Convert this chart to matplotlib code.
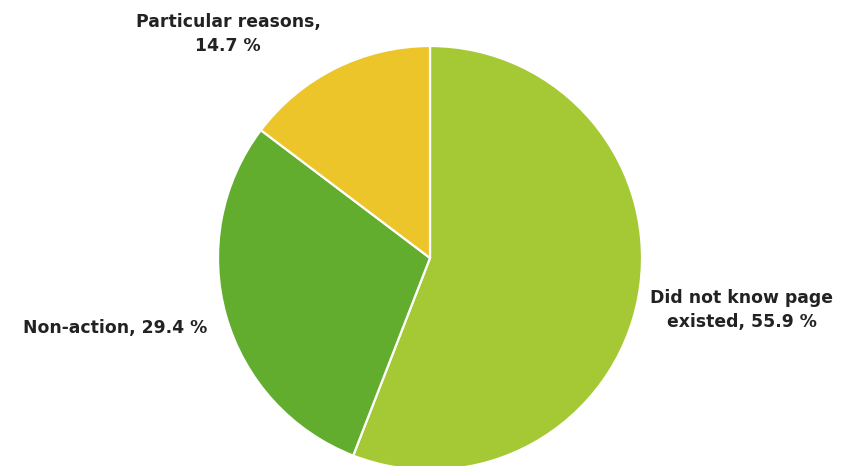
import matplotlib
matplotlib.use("Agg")
import matplotlib.pyplot as plt

categories = ["Did not know page\nexisted, 55.9 %", "Non-action, 29.4 %", "Particular reasons,\n14.7 %"]
values = [55.9, 29.4, 14.7]
colors = ["#a4c934", "#63ad2e", "#ecc52a"]

W, H = 848, 466
fig = plt.figure(figsize=(W / 100, H / 100), dpi=100)
ax = fig.add_axes([0, 0, 1, 1])

cx, cy, r = 430, H - 258, 212
wedges, texts = ax.pie(values, labels=categories, colors=colors, startangle=90,
                       counterclock=False, center=(cx, cy), radius=r,
                       labeldistance=1.1, frame=True,
                       wedgeprops=dict(edgecolor="white", linewidth=1.6),
                       textprops=dict(fontsize=12.4, fontweight="bold", color="#222222",
                                      family="DejaVu Sans", linespacing=1.45))
ax.set_xlim(0, W)
ax.set_ylim(0, H)
ax.set_aspect("equal")
ax.axis("off")

# label placement (pixel coords from top-left)
pos = [(742, 310, "center"), (207, 328, "right"), (228, 34, "center")]
for t, (x, y, ha) in zip(texts, pos):
    t.set_position((x, H - y))
    t.set_ha(ha)
    t.set_va("center")
    t.set_multialignment("center")

fig.savefig("out.png", dpi=100)
